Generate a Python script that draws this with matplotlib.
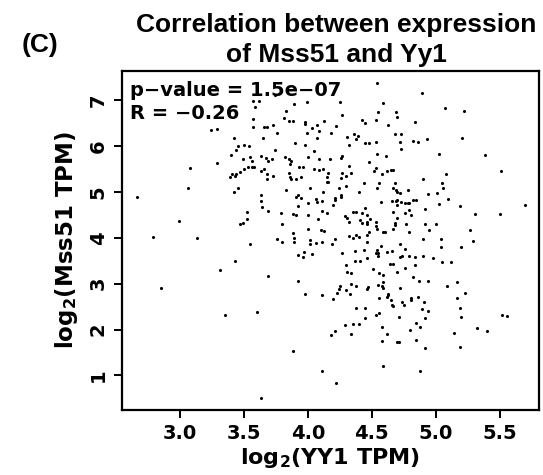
import matplotlib
matplotlib.use('Agg')
from matplotlib import pylab as plt

# log2(YY1 TPM)  -- x axis
yy1 = [
    3.74, 3.57, 3.62, 3.59, 3.89, 3.99, 3.83, 3.57, 3.81, 3.85, 3.88, 3.98, 3.98, 4.13, 3.66, 3.68,
    3.73, 3.76, 3.57, 3.24, 3.29, 4.03, 4.07, 4.09, 3.99, 3.42, 3.65, 4.07, 3.45, 3.50, 3.54, 3.44,
    3.74, 3.90, 3.98, 4.05, 3.40, 3.49, 3.55, 3.56, 3.63, 3.67, 3.69, 3.72, 3.82, 3.85, 3.87, 3.86,
    3.93, 3.96, 4.00, 4.09, 4.17, 3.29, 3.08, 3.50, 3.53, 3.56, 3.58, 3.47, 3.44, 3.41, 3.39, 3.43,
    3.63, 3.66, 3.68, 3.73, 3.68, 3.85, 3.86, 3.87, 3.91, 3.95, 4.05, 4.09, 4.12, 4.16, 4.15, 3.06,
    3.45, 3.83, 4.02, 4.54, 4.89, 4.25, 4.59, 5.07, 5.22, 4.55, 4.69, 4.70, 4.27, 4.42, 4.45, 4.53,
    4.84, 4.22, 4.63, 4.18, 4.31, 4.36, 4.39, 4.38, 4.68, 4.73, 5.21, 4.93, 4.82, 4.86, 4.72, 4.73,
    4.32, 4.45, 4.48, 4.53, 4.27, 4.26, 4.54, 4.61, 5.03, 5.39, 4.48, 4.32, 4.15, 4.16, 4.27, 4.26,
    4.30, 4.34, 4.52, 4.53, 4.58, 4.62, 4.65, 4.67, 5.51, 5.08, 4.90, 5.05, 5.06, 4.44, 4.56, 4.54,
    4.68, 4.67, 4.78, 4.24, 4.30, 2.66, 3.42, 3.63, 3.63, 3.64, 3.69, 3.92, 3.91, 3.95, 3.92, 4.12,
    4.00, 4.06, 4.07, 4.11, 3.52, 3.52, 3.47, 3.49, 3.79, 3.88, 3.91, 4.00, 4.11, 4.15, 4.08, 3.80,
    2.99, 2.79, 3.13, 3.55, 3.76, 3.80, 3.88, 3.89, 3.89, 4.00, 4.10, 4.13, 4.02, 4.02, 4.06, 4.11,
    3.92, 3.96, 3.97, 4.03, 3.43, 3.31, 3.69, 3.92, 2.85, 3.98, 4.11, 4.69, 4.70, 4.72, 4.40, 4.21,
    4.21, 4.26, 4.26, 4.20, 4.94, 5.01, 5.10, 5.03, 5.19, 5.70, 5.31, 5.50, 4.57, 4.66, 4.69, 4.70,
    4.73, 4.70, 4.76, 4.78, 4.79, 4.82, 4.85, 4.92, 4.79, 4.81, 4.76, 4.67, 4.70, 4.35, 4.38, 4.42,
    4.45, 4.46, 4.29, 4.31, 4.32, 4.41, 4.42, 4.46, 4.46, 4.49, 4.53, 4.53, 4.68, 4.68, 4.67, 4.77,
    4.92, 5.00, 4.95, 4.79, 4.54, 4.59, 4.60, 4.48, 5.27, 5.29, 5.04, 4.90, 5.20, 5.04, 4.32, 4.35,
    4.38, 4.40, 4.46, 4.21, 4.19, 4.46, 4.57, 4.72, 4.76, 4.66, 4.62, 4.54, 4.53, 4.55, 4.55, 4.37,
    4.44, 4.27, 4.46, 4.37, 4.41, 4.72, 4.74, 4.79, 4.84, 4.90, 4.98, 5.05, 5.12, 4.30, 4.64, 4.67,
    4.84, 4.51, 4.76, 4.31, 4.34, 4.56, 4.59, 4.70, 4.82, 4.87, 4.94, 5.17, 5.09, 5.23, 5.17, 4.59,
    4.58, 4.55, 4.59, 4.34, 4.38, 4.25, 4.24, 4.30, 4.33, 4.47, 4.46, 4.72, 4.63, 4.62, 4.63, 4.56,
    4.81, 4.86, 4.20, 3.35, 3.60, 3.88, 4.11, 3.63, 4.23, 4.65, 4.81, 4.91, 4.89, 4.94, 4.74, 4.75,
    4.66, 4.67, 4.38, 4.45, 4.45, 4.53, 4.56, 4.71, 4.92, 5.19, 5.20, 5.52, 5.56, 4.29, 4.35, 4.40,
    4.21, 4.18, 4.34, 4.58, 4.62, 4.85, 4.88, 4.80, 4.58, 4.70, 4.71, 4.85, 4.92, 5.14, 5.32, 5.40,
    5.19, 4.22, 4.59, 4.88,
]

# log2(Mss51 TPM)  -- y axis, same order as yy1
mss51 = [
    7.11, 6.98, 6.98, 6.84, 6.92, 6.95, 6.77, 6.58, 6.60, 6.55, 6.54, 6.53, 6.48, 6.55, 6.42, 6.41,
    6.46, 6.29, 6.41, 6.35, 6.37, 6.38, 6.46, 6.32, 6.29, 6.17, 6.17, 6.17, 5.99, 6.01, 6.00, 5.91,
    5.91, 6.06, 6.02, 5.89, 5.80, 5.71, 5.75, 5.68, 5.78, 5.74, 5.68, 5.71, 5.75, 5.71, 5.68, 5.61,
    5.55, 5.55, 5.75, 5.71, 5.71, 5.62, 5.51, 5.49, 5.53, 5.55, 5.53, 5.43, 5.39, 5.39, 5.33, 5.34,
    5.45, 5.49, 5.39, 5.34, 5.29, 5.40, 5.33, 5.28, 5.29, 5.32, 5.50, 5.47, 5.50, 5.40, 5.32, 5.09,
    5.09, 5.05, 5.09, 7.36, 7.15, 6.96, 6.94, 6.83, 6.77, 6.73, 6.73, 6.63, 6.67, 6.56, 6.51, 6.56,
    6.52, 6.43, 6.46, 6.29, 6.20, 6.25, 6.22, 6.14, 6.27, 6.27, 6.17, 6.15, 6.11, 6.08, 6.08, 5.93,
    6.02, 6.06, 6.06, 6.08, 5.78, 5.74, 5.82, 5.79, 5.82, 5.81, 5.64, 5.56, 5.22, 5.22, 5.42, 5.31,
    5.34, 5.42, 5.46, 5.51, 5.38, 5.45, 5.47, 5.47, 5.45, 5.38, 5.29, 5.20, 5.09, 5.19, 5.19, 5.09,
    5.19, 5.08, 5.05, 5.08, 5.12, 4.89, 5.00, 4.92, 4.80, 4.66, 4.59, 4.94, 4.89, 4.87, 4.70, 5.00,
    4.76, 4.85, 4.78, 4.79, 4.56, 4.40, 4.30, 4.31, 4.54, 4.52, 4.49, 4.49, 4.59, 4.54, 4.40, 4.30,
    4.36, 4.01, 3.99, 3.86, 3.97, 3.91, 4.11, 3.99, 3.90, 4.18, 4.17, 4.15, 3.95, 3.86, 3.88, 3.91,
    3.63, 3.58, 3.68, 3.64, 3.49, 3.30, 3.16, 3.06, 2.90, 2.78, 2.76, 5.04, 5.00, 4.97, 5.00, 4.86,
    4.82, 4.93, 4.89, 4.71, 4.95, 4.97, 4.84, 4.73, 4.69, 4.71, 4.52, 4.51, 4.77, 4.81, 4.81, 4.82,
    4.78, 4.71, 4.76, 4.75, 4.75, 4.82, 4.82, 4.62, 4.60, 4.49, 4.54, 4.57, 4.44, 4.57, 4.57, 4.54,
    4.64, 4.49, 4.48, 4.44, 4.34, 4.39, 4.31, 4.30, 4.34, 4.41, 4.35, 4.26, 4.31, 4.28, 4.20, 4.29,
    4.29, 4.30, 4.16, 4.12, 4.18, 4.12, 4.12, 4.13, 4.17, 3.93, 3.98, 3.97, 3.80, 3.79, 4.04, 3.99,
    4.07, 4.02, 4.06, 3.97, 3.86, 3.90, 3.82, 3.86, 3.75, 3.72, 3.68, 3.73, 3.67, 3.67, 3.60, 3.72,
    3.73, 3.66, 3.55, 3.49, 3.49, 3.59, 3.60, 3.60, 3.59, 3.61, 3.55, 3.48, 3.47, 3.41, 3.43, 3.43,
    3.41, 3.32, 3.33, 3.25, 3.23, 3.24, 3.18, 3.25, 3.15, 3.06, 3.06, 3.03, 2.95, 2.79, 2.68, 3.04,
    2.95, 2.98, 2.90, 2.99, 2.95, 2.95, 2.88, 2.86, 2.78, 2.92, 2.88, 2.90, 2.78, 2.70, 2.75, 2.69,
    2.69, 2.70, 2.66, 2.32, 2.38, 1.54, 1.09, 0.50, 2.79, 2.64, 2.64, 2.59, 2.45, 2.41, 2.59, 2.53,
    2.53, 2.51, 2.46, 2.46, 2.24, 2.32, 2.35, 2.27, 2.25, 2.46, 2.28, 2.32, 2.29, 2.09, 2.13, 2.11,
    1.96, 1.89, 1.91, 2.05, 1.91, 2.14, 2.05, 2.00, 1.76, 1.73, 1.73, 1.77, 1.59, 1.92, 2.03, 1.97,
    1.61, 0.84, 1.20, 1.10,
]

x_ticks = [3.0, 3.5, 4.0, 4.5, 5.0, 5.5]
x_tick_labels = ['3.0', '3.5', '4.0', '4.5', '5.0', '5.5']
y_ticks = [1, 2, 3, 4, 5, 6, 7]

p_text = 'p\u2212value = 1.5e\u221207'
r_text = 'R = \u22120.26'


def main():
    plt.rcParams['font.family'] = ['DejaVu Sans']
    plt.rcParams['font.weight'] = 'bold'
    plt.rcParams['mathtext.fontset'] = 'custom'
    plt.rcParams['mathtext.rm'] = 'DejaVu Sans:bold'
    plt.rcParams['mathtext.it'] = 'DejaVu Sans:bold'
    plt.rcParams['mathtext.default'] = 'rm'

    fig = plt.figure(figsize=(5.43, 4.75), dpi=100)
    ax = fig.add_axes([0.2238, 0.1368, 0.7689, 0.7137])

    ax.scatter(yy1, mss51, s=5, c='black', marker='o', linewidths=0)

    ax.set_xlim(2.542, 5.809)
    ax.set_ylim(0.246, 7.632)
    ax.set_xticks(x_ticks)
    ax.set_xticklabels(x_tick_labels)
    ax.set_yticks(y_ticks)
    ax.set_yticklabels([str(v) for v in y_ticks], rotation=90, va='center')

    # R風の外向き目盛り
    ax.tick_params(axis='both', direction='out', length=6, width=1.4,
                   labelsize=14, colors='black')
    ax.tick_params(axis='x', pad=4)
    ax.tick_params(axis='y', pad=4)
    for sp in ax.spines.values():
        sp.set_linewidth(1.6)

    ax.set_xlabel('log$_{2}$(YY1 TPM)', fontsize=16, fontweight='bold', labelpad=2)
    ax.set_ylabel('log$_{2}$(Mss51 TPM)', fontsize=16.5, fontweight='bold', labelpad=6)

    ax.text(0.02, 0.926, p_text, transform=ax.transAxes, fontsize=14, fontweight='bold')
    ax.text(0.02, 0.858, r_text, transform=ax.transAxes, fontsize=14, fontweight='bold')

    # タイトル（2行）とパネル記号
    title_font = ['Liberation Sans', 'DejaVu Sans']
    fig.text(0.619, 0.9326, 'Correlation between expression', ha='center', va='baseline',
             fontsize=19, fontweight='bold', family=title_font)
    fig.text(0.619, 0.8695, 'of Mss51 and Yy1', ha='center', va='baseline',
             fontsize=19, fontweight='bold', family=title_font)
    fig.text(0.040, 0.8905, '(C)', ha='left', va='baseline', fontsize=19,
             fontweight='bold', family=title_font)

    fig.savefig('out.png', dpi=100)


if __name__ == '__main__':
    main()
